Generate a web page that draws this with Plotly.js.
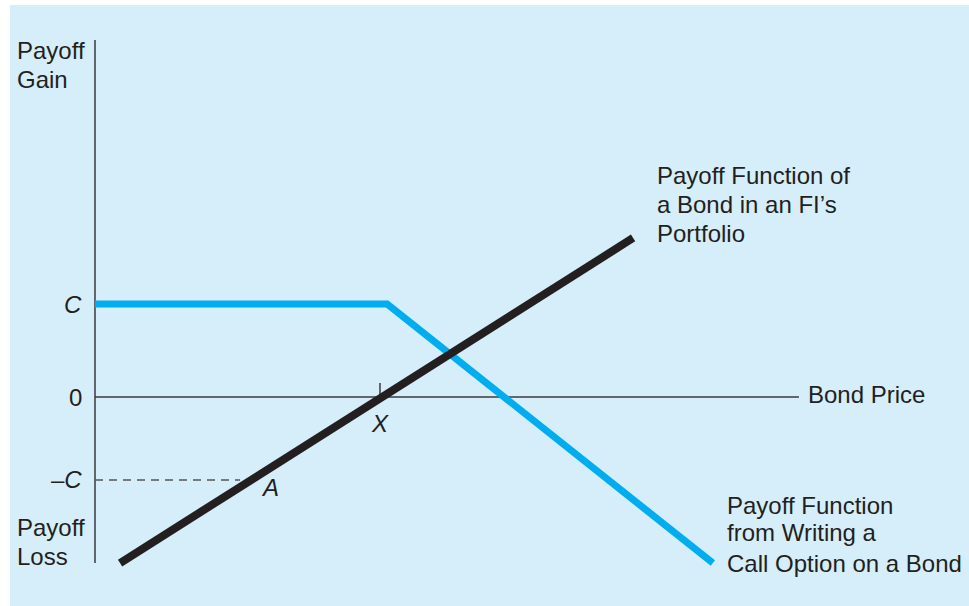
<!DOCTYPE html>
<html>
<head>
<meta charset="utf-8">
<script src="https://cdn.plot.ly/plotly-3.0.1.min.js"></script>
<style>
html,body{margin:0;padding:0;background:#d6edfa;overflow:hidden;}
#chart{position:absolute;left:10px;top:5px;width:959px;height:601px;}
#bt{position:absolute;left:0;top:0;width:100%;height:5px;background:#fff;z-index:5;}
#bl{position:absolute;left:0;top:0;width:10px;height:100%;background:#fff;z-index:5;}
</style>
</head>
<body>
<div id="chart"></div>
<div id="bt"></div>
<div id="bl"></div>
<script>
// Data (bond price units on x, payoff units on y); X = strike, C = premium
const bondX = [8.8, 188.8];
const bondY = [-17.85, 17.1];
const callX = [0, 102.5, 216.8];
const callY = [10, 10, -17.85];
const yAxisX = [0, 0];
const yAxisY = [38.4, -17.85];
const xAxisX = [0, 247];
const xAxisY = [0, 0];
const strikeTickX = [100, 100];
const strikeTickY = [0, 1.5];
const negCX = [0, 50.9];
const negCY = [-8.92, -8.92];
const yTickVals = [10, 0, -8.92];
const yTickText = ['<i>C</i>', '0', '–<i>C</i>'];

const font = {family: 'Liberation Sans, Arial, Helvetica, sans-serif', size: 24, color: '#231f20'};
const lines = [
  {x: yAxisX, y: yAxisY, line: {color: '#3a3a3a', width: 1.5}},
  {x: xAxisX, y: xAxisY, line: {color: '#3a3a3a', width: 1.5}},
  {x: strikeTickX, y: strikeTickY, line: {color: '#3a3a3a', width: 1.5}},
  {x: negCX, y: negCY, line: {color: '#555555', width: 1.5, dash: '8px,6px'}},
  {x: callX, y: callY, line: {color: '#00aeef', width: 7}},
  {x: bondX, y: bondY, line: {color: '#231f20', width: 8}}
].map(t => Object.assign({type: 'scatter', mode: 'lines', hoverinfo: 'skip', showlegend: false}, t));

const ann = [];
yTickVals.forEach((v, i) => ann.push({x: -4, y: v, text: yTickText[i], xanchor: 'right'}));
ann.push({x: strikeTickX[0], y: -2.8, text: '<i>X</i>', xanchor: 'center'});
ann.push({x: 61.4, y: -9.68, text: '<i>A</i>', xanchor: 'center'});

function block(x, ys, texts) {
  texts.forEach((t, i) => ann.push({x: x, y: ys[i], text: t, xanchor: 'left'}));
}
block(-27.9, [37.31, 34.19], ['Payoff', 'Gain']);
block(-27.9, [-13.98, -17.2], ['Payoff', 'Loss']);
block(249.4, [0.25], ['Bond Price']);
block(196.5, [23.87, 20.65, 17.63], ['Payoff Function of', 'a Bond in an FI’s', 'Portfolio']);
block(221.2, [-11.61, -14.62, -17.85], ['Payoff Function', 'from Writing a', 'Call Option on a Bond']);
ann.forEach(a => { a.showarrow = false; a.font = font; a.xref = 'x'; a.yref = 'y'; a.yanchor = 'middle'; });

const hidden = {showgrid: false, zeroline: false, showticklabels: false, showline: false, ticks: '', fixedrange: true};
const layout = {
  width: 959, height: 601,
  margin: {l: 0, r: 0, t: 0, b: 0, pad: 0},
  paper_bgcolor: '#d6edfa',
  plot_bgcolor: '#d6edfa',
  xaxis: Object.assign({range: [-29.82, 306.67]}, hidden),
  yaxis: Object.assign({range: [-22.47, 42.15]}, hidden),
  annotations: ann,
  showlegend: false
};
Plotly.newPlot('chart', lines, layout, {displayModeBar: false, staticPlot: true});
</script>
</body>
</html>
